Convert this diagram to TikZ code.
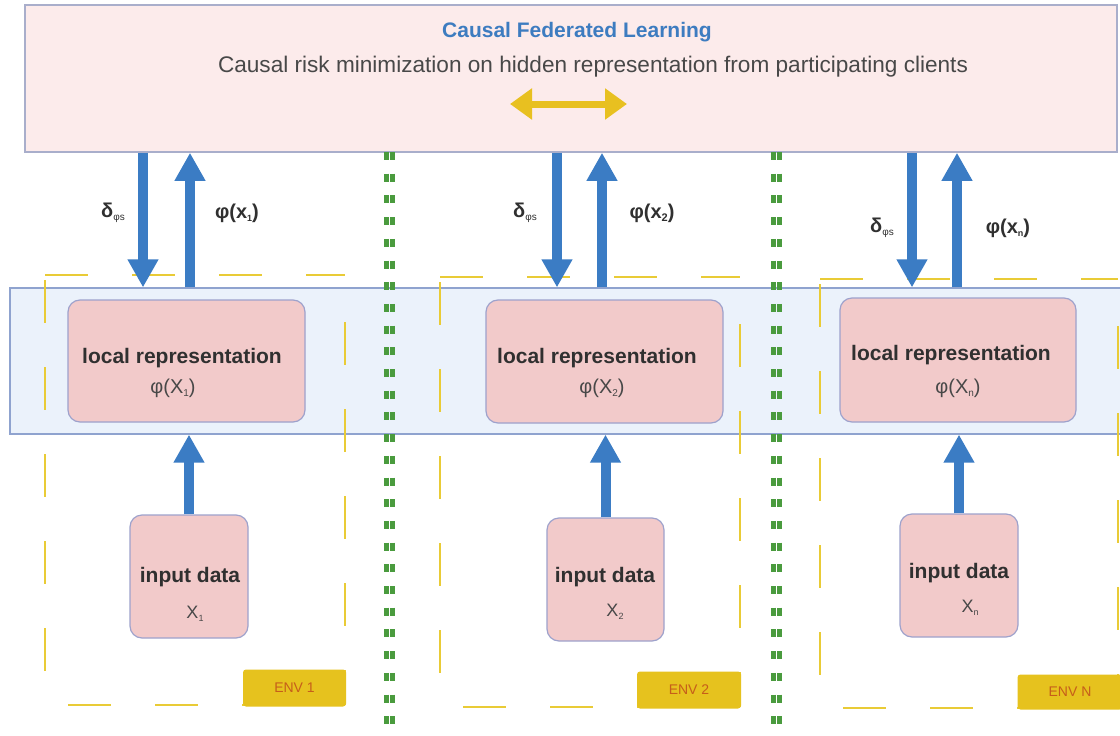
\documentclass[tikz,border=0pt]{standalone}
\usepackage{fontspec}
\setmainfont{Liberation Sans}
\usetikzlibrary{arrows.meta}

\definecolor{topfill}{HTML}{FCEBEB}
\definecolor{topedge}{HTML}{A9AECB}
\definecolor{bandfill}{HTML}{EBF2FB}
\definecolor{bandedge}{HTML}{8FA3CF}
\definecolor{pinkfill}{HTML}{F2CACA}
\definecolor{pinkedge}{HTML}{9EA2CC}
\definecolor{flowblue}{HTML}{3B7CC4}
\definecolor{titleblue}{HTML}{3D7CC0}
\definecolor{envyellow}{HTML}{E9CB36}
\definecolor{tagfill}{HTML}{E6C21E}
\definecolor{tagtext}{HTML}{C65E1A}
\definecolor{sepgreen}{HTML}{4A9B3E}
\definecolor{swapgold}{HTML}{E8C020}
\definecolor{darktext}{HTML}{303030}
\definecolor{softtext}{HTML}{484848}

% small lowered index used in the labels
\newcommand{\lowidx}[2]{\raisebox{-0.3ex}{\fontsize{#1}{#1}\selectfont #2}}
\newcommand{\fs}[1]{\fontsize{#1}{#1}\selectfont}
% dashed frame of one environment, each side with its own dash phase
\newcommand{\envbox}[4]{%
  \draw[envframe] (#1,#2) -- (#3,#2);
  \draw[envframe] (#1,#2+5) -- (#1,#4);
  \draw[envframe] (#1+23,#4) -- (#3,#4);
  \draw[envframe] (#3,#2+47) -- (#3,#4);
}

\begin{document}
\begin{tikzpicture}[x=1pt,y=-1pt,
  topbox/.style={draw=topedge, fill=topfill, line width=1.5pt, inner sep=0pt},
  bandbox/.style={draw=bandedge, fill=bandfill, line width=1.2pt, inner sep=0pt},
  pinkbox/.style={draw=pinkedge, fill=pinkfill, line width=1.2pt, rounded corners=12pt, inner sep=0pt},
  envframe/.style={draw=envyellow, line width=2pt, dash pattern=on 43pt off 44pt},
  envtag/.style={fill=tagfill, rounded corners=3pt, text=tagtext, font=\fs{14}, inner sep=0pt},
  sepline/.style={draw=sepgreen, line width=5pt, dash pattern=on 8pt off 13.7pt},
  flow/.style={draw=flowblue, line width=10pt, -{Triangle[width=29pt,length=28pt]}},
  swap/.style={draw=swapgold, line width=7pt, {Triangle[width=30pt,length=22pt]}-{Triangle[width=30pt,length=22pt]}},
  boldlbl/.style={text=darktext, font=\bfseries\fs{20}, inner sep=0pt},
  lighttxt/.style={text=softtext, font=\fs{20}, inner sep=0pt},
]
\useasboundingbox (0,0) rectangle (1120,736);
\fill[white] (0,0) rectangle (1120,736);

% server box
\node[topbox, minimum width=1092pt, minimum height=147pt] (fl) at (571,78.5) {};
\node[text=titleblue, font=\bfseries\fs{21}, inner sep=0pt] (title) at (577,32) {Causal Federated Learning};
\node[lighttxt, font=\fs{22.6}] (sub) at (593,67) {Causal risk minimization on hidden representation from participating clients};
\coordinate (swl) at (510,104);
\coordinate (swr) at (627,104);
\draw[swap] (swl) -- (swr);

% shared representation band
\node[bandbox, minimum width=1115pt, minimum height=146pt] (band) at (567.5,361) {};

% environment frames
\envbox{45}{275}{345}{705}
\envbox{440}{277}{740}{707}
\envbox{820}{279}{1118}{708}
\node[envtag, minimum width=103pt, minimum height=37pt] (env1) at (294.5,688) {ENV 1};
\node[envtag, minimum width=104pt, minimum height=37pt] (env2) at (689,690) {ENV 2};
\node[envtag, minimum width=105pt, minimum height=35pt] (envn) at (1070,692) {ENV N};

% separators between clients
\foreach \cx in {389.5,776}{
  \draw[sepline] (\cx-3,152) -- (\cx-3,736);
  \draw[sepline] (\cx+3,152) -- (\cx+3,736);
}

% local representation boxes
\node[pinkbox, minimum width=237pt, minimum height=122pt] (lr1) at (186.5,361) {};
\node[pinkbox, minimum width=237pt, minimum height=123pt] (lr2) at (604.5,361.5) {};
\node[pinkbox, minimum width=236pt, minimum height=124pt] (lrn) at (958,360) {};
\node[boldlbl, font=\bfseries\fs{21}] (lr1a) at (182,358) {local representation};
\node[lighttxt] (lr1b) at (173,388) {φ(X\lowidx{10}{1})};
\node[boldlbl, font=\bfseries\fs{21}] (lr2a) at (597,358) {local representation};
\node[lighttxt] (lr2b) at (602,388) {φ(X\lowidx{10}{2})};
\node[boldlbl, font=\bfseries\fs{21}] (lrna) at (951,355) {local representation};
\node[lighttxt] (lrnb) at (958,388) {φ(X\lowidx{10}{n})};

% input data boxes
\node[pinkbox, minimum width=118pt, minimum height=123pt] (in1) at (189,576.5) {};
\node[pinkbox, minimum width=117pt, minimum height=123pt] (in2) at (605.5,579.5) {};
\node[pinkbox, minimum width=118pt, minimum height=123pt] (inn) at (959,575.5) {};
\node[boldlbl, font=\bfseries\fs{21}] (in1a) at (190,577) {input data};
\node[lighttxt, font=\fs{18}] (in1b) at (195,614) {X\lowidx{9}{1}};
\node[boldlbl, font=\bfseries\fs{21}] (in2a) at (605,577) {input data};
\node[lighttxt, font=\fs{18}] (in2b) at (615,612) {X\lowidx{9}{2}};
\node[boldlbl, font=\bfseries\fs{21}] (inna) at (959,573) {input data};
\node[lighttxt, font=\fs{18}] (innb) at (970,608) {X\lowidx{9}{n}};

% data flow: input -> local representation
\draw[flow] (in1.north) -- (in1.north |- band.south);
\draw[flow] (in2.north) -- (in2.north |- band.south);
\draw[flow] (inn.north) -- (inn.north |- band.south);

% exchange with the server
\coordinate (d1) at (143,0);  \coordinate (u1) at (190,0);
\coordinate (d2) at (557,0);  \coordinate (u2) at (602,0);
\coordinate (dn) at (912,0);  \coordinate (un) at (957,0);
\draw[flow] (fl.south -| d1) -- (band.north -| d1);
\draw[flow] (band.north -| u1) -- (fl.south -| u1);
\draw[flow] (fl.south -| d2) -- (band.north -| d2);
\draw[flow] (band.north -| u2) -- (fl.south -| u2);
\draw[flow] (fl.south -| dn) -- (band.north -| dn);
\draw[flow] (band.north -| un) -- (fl.south -| un);

\node[boldlbl] (g1) at (113,213) {δ\lowidx{10}{\mdseries φs}};
\node[boldlbl] (p1) at (237,213) {φ(x\lowidx{9}{1})};
\node[boldlbl] (g2) at (525,213) {δ\lowidx{10}{\mdseries φs}};
\node[boldlbl] (p2) at (652,213) {φ(x\lowidx{11}{2})};
\node[boldlbl] (gn) at (882,228) {δ\lowidx{10}{\mdseries φs}};
\node[boldlbl] (pn) at (1008,228) {φ(x\lowidx{9}{n})};
\end{tikzpicture}
\end{document}
